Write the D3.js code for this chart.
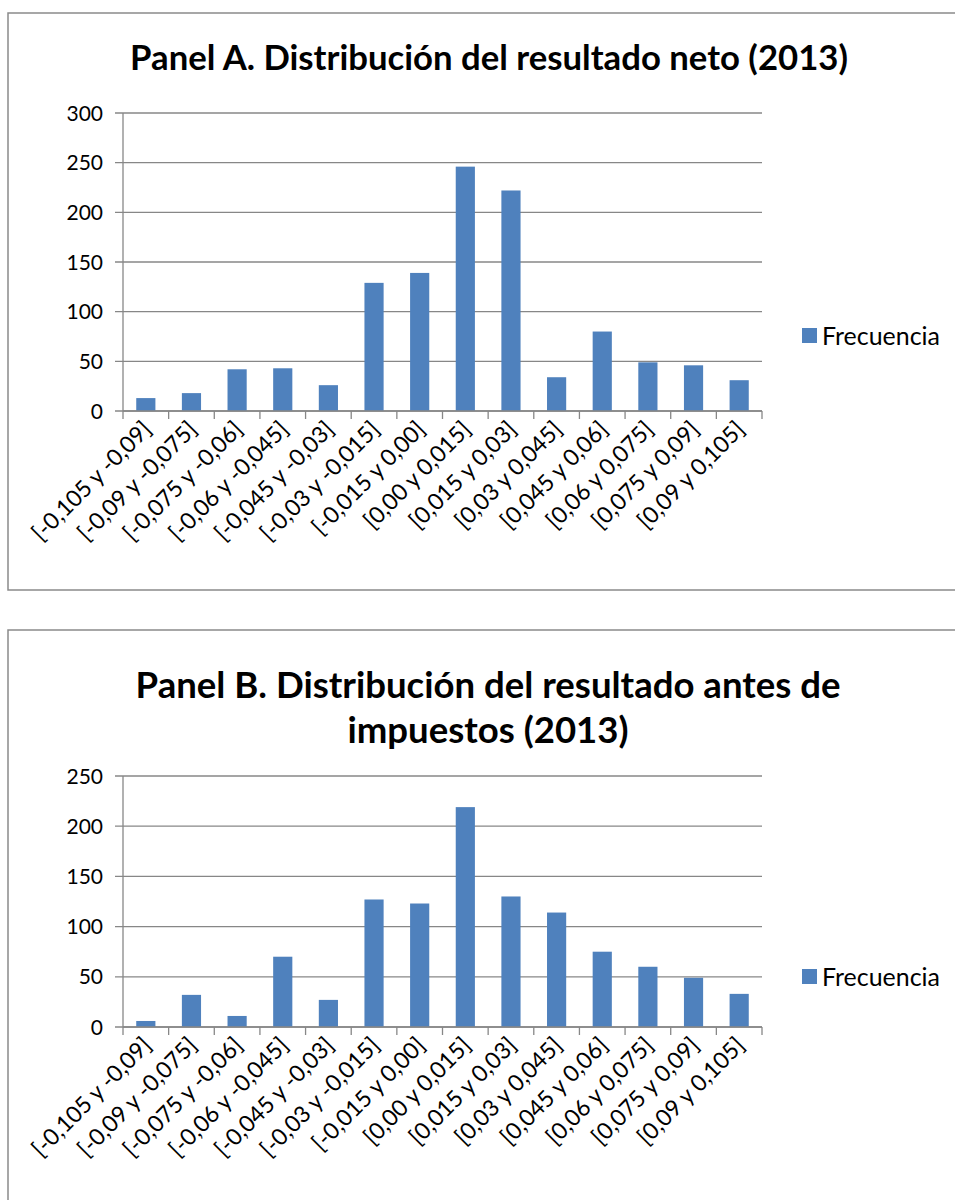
<!DOCTYPE html>
<html>
<head>
<meta charset="utf-8">
<script src="https://cdn.jsdelivr.net/npm/d3@7"></script>
<style>
  html, body { margin: 0; padding: 0; background: #fff; }
  svg { display: block; }
</style>
</head>
<body>
<svg id="chart" width="955" height="1200"></svg>
<script>
// ---- data ----
const categories = [
  "[-0,105 y -0,09]", "[-0,09 y -0,075]", "[-0,075 y -0,06]", "[-0,06 y -0,045]",
  "[-0,045 y -0,03]", "[-0,03 y -0,015]", "[-0,015 y 0,00]", "[0,00 y 0,015]",
  "[0,015 y 0,03]", "[0,03 y 0,045]", "[0,045 y 0,06]", "[0,06 y 0,075]",
  "[0,075 y 0,09]", "[0,09 y 0,105]"
];
const panelAValues = [13, 18, 42, 43, 26, 129, 139, 246, 222, 34, 80, 49, 46, 31];
const panelBValues = [6, 32, 11, 70, 27, 127, 123, 219, 130, 114, 75, 60, 49, 33];
const panelATicks = [0, 50, 100, 150, 200, 250, 300];
const panelBTicks = [0, 50, 100, 150, 200, 250];
const panelATitle = ["Panel A. Distribución del resultado neto (2013)"];
const panelBTitle = ["Panel B. Distribución del resultado antes de", "impuestos (2013)"];
const seriesName = "Frecuencia";

const FONT = "Lato, 'Open Sans', sans-serif";
const BAR = "#4F81BD";
const GRID = "#878787";

const svg = d3.select("#chart");

function fitText(sel, targetWidth) {
  const node = sel.node();
  const fs = parseFloat(sel.attr("font-size"));
  const w = node.getComputedTextLength();
  const nfs = fs * targetWidth / w;
  sel.attr("font-size", nfs.toFixed(2));
  return nfs;
}

function drawPanel(cfg) {
  const g = svg.append("g");
  // frame
  g.append("rect")
    .attr("x", cfg.frame[0]).attr("y", cfg.frame[1])
    .attr("width", cfg.frame[2]).attr("height", cfg.frame[3])
    .attr("fill", "#fff").attr("stroke", "#8a8a8a").attr("stroke-width", 1.5);

  // title (first line fitted, others share its size)
  let titleSize = 28;
  cfg.title.forEach((t, i) => {
    const tt = g.append("text")
      .attr("x", cfg.titleX).attr("y", cfg.titleY[i])
      .attr("text-anchor", "middle")
      .attr("font-family", FONT).attr("font-weight", "bold")
      .attr("font-size", titleSize).attr("fill", "#000")
      .text(t);
    if (i === 0) titleSize = fitText(tt, cfg.titleW);
  });

  const x = d3.scaleBand().domain(categories).range([cfg.x0, cfg.x1]).paddingInner(0.58).paddingOuter(0.29);
  const xb = d3.scaleBand().domain(categories).range([cfg.x0, cfg.x1]);
  const y = d3.scaleLinear().domain([0, cfg.yMax]).range([cfg.yBottom, cfg.yTop]);

  // gridlines + y ticks
  g.append("g").selectAll("line").data(cfg.ticks).join("line")
    .attr("x1", cfg.x0 - 8).attr("x2", cfg.x1)
    .attr("y1", d => y(d)).attr("y2", d => y(d))
    .attr("stroke", GRID).attr("stroke-width", 1.3);

  g.append("g").selectAll("text").data(cfg.ticks).join("text")
    .attr("x", cfg.x0 - 20).attr("y", d => y(d))
    .attr("dy", "0.36em")
    .attr("text-anchor", "end")
    .attr("font-family", FONT).attr("font-size", 21).attr("fill", "#000")
    .text(d => d);

  // y axis line
  g.append("line").attr("x1", cfg.x0).attr("x2", cfg.x0)
    .attr("y1", cfg.yTop).attr("y2", cfg.yBottom)
    .attr("stroke", GRID).attr("stroke-width", 1.3);

  // bars
  g.append("g").selectAll("rect").data(cfg.values).join("rect")
    .attr("x", (d, i) => x(categories[i]))
    .attr("width", x.bandwidth())
    .attr("y", d => y(d))
    .attr("height", d => cfg.yBottom - y(d))
    .attr("fill", BAR);

  // x axis line + ticks at boundaries
  g.append("line").attr("x1", cfg.x0).attr("x2", cfg.x1)
    .attr("y1", cfg.yBottom).attr("y2", cfg.yBottom)
    .attr("stroke", GRID).attr("stroke-width", 1.3);
  const bounds = categories.map(c => xb(c)).concat([cfg.x1]);
  g.append("g").selectAll("line").data(bounds).join("line")
    .attr("x1", d => d).attr("x2", d => d)
    .attr("y1", cfg.yBottom).attr("y2", cfg.yBottom + 8)
    .attr("stroke", GRID).attr("stroke-width", 1.3);

  // x labels rotated
  g.append("g").selectAll("text").data(categories).join("text")
    .attr("transform", d => `translate(${xb(d) + xb.bandwidth() / 2 + 1},${cfg.yBottom + 14}) rotate(-45)`)
    .attr("dy", "0.36em")
    .attr("text-anchor", "end")
    .attr("font-family", FONT).attr("font-size", 23).attr("fill", "#000")
    .text(d => d);

  // legend
  g.append("rect").attr("x", 802).attr("y", cfg.legendY - 8).attr("width", 15).attr("height", 15).attr("fill", BAR);
  const lt = g.append("text").attr("x", 822).attr("y", cfg.legendY)
    .attr("dy", "0.36em")
    .attr("font-family", FONT).attr("font-size", 21).attr("fill", "#000")
    .text(seriesName);
  fitText(lt, 118);
}

drawPanel({
  frame: [8, 13, 960, 577],
  title: panelATitle, titleX: 489, titleY: [70], titleW: 718,
  x0: 123, x1: 762, yTop: 113, yBottom: 411, yMax: 300,
  ticks: panelATicks, values: panelAValues, legendY: 336
});

drawPanel({
  frame: [8, 630, 960, 600],
  title: panelBTitle, titleX: 488, titleY: [698, 743], titleW: 705,
  x0: 123, x1: 762, yTop: 776, yBottom: 1027, yMax: 250,
  ticks: panelBTicks, values: panelBValues, legendY: 977
});
</script>
</body>
</html>
